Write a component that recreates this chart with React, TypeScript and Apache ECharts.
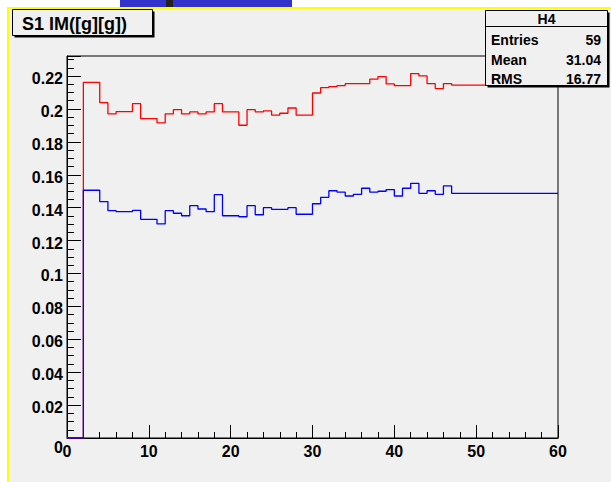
import React, { useEffect, useRef } from "react";
import * as echarts from "echarts";

// ---- data ----
const histTitle = "S1 IM([g][g])";
const statTitle = "H4";
const statNames = ["Entries", "Mean", "RMS"];
const statValues = ["59", "31.04", "16.77"];

const xMin = 0;
const xMax = 60;
const yMax = 0.2322;
const xTickLabels = ["0", "10", "20", "30", "40", "50", "60"];
const yTickLabels = ["0", "0.02", "0.04", "0.06", "0.08", "0.1", "0.12", "0.14", "0.16", "0.18", "0.2", "0.22"];

// one value per unit-wide bin, from x = 0 to x = 60
const redValues = [
  0, 0, 0.2162, 0.2162, 0.2038, 0.197, 0.1984, 0.1984, 0.2032, 0.1941,
  0.1941, 0.1915, 0.197, 0.1996, 0.197, 0.1982, 0.197, 0.1982, 0.2032, 0.1982,
  0.1982, 0.1901, 0.1996, 0.1982, 0.1988, 0.1962, 0.1974, 0.2006, 0.1962, 0.1962,
  0.2097, 0.213, 0.2136, 0.2142, 0.2154, 0.2154, 0.2154, 0.2181, 0.2197, 0.2152,
  0.2142, 0.2142, 0.2215, 0.2201, 0.2154, 0.2124, 0.2154, 0.2145, 0.2145, 0.2145,
  0.2145, 0.2145, 0.2145, 0.2145, 0.2145, 0.2145, 0.2145, 0.2145, 0.2145, 0.2145,
];
const blueValues = [
  0, 0, 0.1506, 0.1506, 0.1437, 0.1382, 0.1376, 0.1376, 0.1384, 0.1329,
  0.1329, 0.1301, 0.1382, 0.1366, 0.1351, 0.1412, 0.1392, 0.1376, 0.1479, 0.1351,
  0.1351, 0.1345, 0.1412, 0.1357, 0.14, 0.139, 0.139, 0.14, 0.136, 0.136,
  0.1424, 0.1463, 0.1503, 0.1494, 0.1471, 0.1481, 0.1518, 0.1494, 0.15, 0.151,
  0.1471, 0.1518, 0.1548, 0.1487, 0.1503, 0.1481, 0.1532, 0.1487, 0.1487, 0.1487,
  0.1487, 0.1487, 0.1487, 0.1487, 0.1487, 0.1487, 0.1487, 0.1487, 0.1487, 0.1487,
];

const FONT = '"Liberation Sans", Arial, Helvetica, sans-serif';

function toSteps(vals: number[]): number[][] {
  const pts: number[][] = [];
  vals.forEach((v, i) => {
    pts.push([xMin + i, v], [xMin + i + 1, v]);
  });
  return pts;
}

function boxWithShadow(x: number, y: number, w: number, h: number, z: number) {
  return [
    { type: "rect", z, shape: { x: x + 2, y: y + 2, width: w, height: h }, style: { fill: "#000" } },
    { type: "rect", z: z + 1, shape: { x, y, width: w, height: h }, style: { fill: "#f0f0f0", stroke: "#000", lineWidth: 1 } },
  ];
}

export default function App() {
  const ref = useRef<HTMLDivElement>(null);
  useEffect(() => {
    if (!ref.current) return;
    const chart = echarts.init(ref.current, undefined, { renderer: "svg" });

    const statBox = { x: 485.5, y: 10.5, w: 122, h: 75 };
    const titleBox = { x: 12.5, y: 9.5, w: 140, h: 26 };

    const graphics: any[] = [
      // canvas background
      { type: "rect", z: -20, silent: true, shape: { x: 7, y: 7, width: 604, height: 475 }, style: { fill: "#f0f0f0" } },
      { type: "rect", z: -19, silent: true, shape: { x: 7, y: 7, width: 2, height: 475 }, style: { fill: "#ffff00" } },
      { type: "rect", z: -19, silent: true, shape: { x: 7, y: 7, width: 604, height: 2 }, style: { fill: "#ffff00" } },
      { type: "rect", z: -19, silent: true, shape: { x: 120, y: 0, width: 172, height: 7 }, style: { fill: "#3333cc" } },
      { type: "rect", z: -18, silent: true, shape: { x: 166, y: 0, width: 7, height: 7 }, style: { fill: "#222222" } },
      // title box
      ...boxWithShadow(titleBox.x, titleBox.y, titleBox.w, titleBox.h, 100),
      {
        type: "text", z: 110, x: 22, y: titleBox.y + titleBox.h / 2 + 1,
        style: { text: histTitle, font: `bold 18px ${FONT}`, fill: "#000", verticalAlign: "middle", align: "left" },
      },
      // stat box
      ...boxWithShadow(statBox.x, statBox.y, statBox.w, statBox.h, 100),
      { type: "line", z: 110, shape: { x1: statBox.x, y1: 26.5, x2: statBox.x + statBox.w, y2: 26.5 }, style: { stroke: "#000", lineWidth: 1 } },
      {
        type: "text", z: 110, x: statBox.x + statBox.w / 2, y: 19,
        style: { text: statTitle, font: `bold 14px ${FONT}`, fill: "#000", align: "center", verticalAlign: "middle" },
      },
    ];
    const rowY = [40, 59.5, 78.5];
    statNames.forEach((n, i) => {
      graphics.push({
        type: "text", z: 110, x: 491, y: rowY[i],
        style: { text: n, font: `bold 14px ${FONT}`, fill: "#000", align: "left", verticalAlign: "middle" },
      });
      graphics.push({
        type: "text", z: 110, x: 601, y: rowY[i],
        style: { text: statValues[i], font: `bold 14px ${FONT}`, fill: "#000", align: "right", verticalAlign: "middle" },
      });
    });

    chart.setOption({
      animation: false,
      backgroundColor: "#ffffff",
      graphic: { elements: graphics },
      grid: {
        left: 67, top: 56, right: 53, bottom: 44,
        show: true, borderColor: "#000", borderWidth: 1, backgroundColor: "transparent",
        containLabel: false,
      },
      xAxis: {
        type: "value", min: xMin, max: xMax, interval: 10,
        axisLine: { show: true, onZero: false, lineStyle: { color: "#000", width: 1 } },
        axisTick: { show: true, inside: true, length: 13, lineStyle: { color: "#000" } },
        minorTick: { show: true, splitNumber: 5, length: 6, lineStyle: { color: "#000" } },
        splitLine: { show: false },
        axisLabel: {
          margin: 5, color: "#000", fontFamily: FONT, fontWeight: "bold", fontSize: 16,
          formatter: (v: number) => xTickLabels[Math.round((v - xMin) / 10)] ?? "",
        },
      },
      yAxis: {
        type: "value", min: 0, max: yMax, interval: 0.02,
        axisLine: { show: true, onZero: false, lineStyle: { color: "#000", width: 1 } },
        axisTick: { show: true, inside: true, length: 14, lineStyle: { color: "#000" } },
        minorTick: { show: true, splitNumber: 4, length: 7, lineStyle: { color: "#000" } },
        splitLine: { show: false },
        axisLabel: {
          margin: 4, color: "#000", fontFamily: FONT, fontWeight: "bold", fontSize: 16,
          showMaxLabel: false,
          formatter: (v: number) => {
            const idx = Math.round(v / 0.02);
            if (idx === 0) return "{z|" + yTickLabels[0] + "}";
            return "{n|" + (yTickLabels[idx] ?? "") + "}";
          },
          rich: {
            z: { fontFamily: FONT, fontWeight: "bold", fontSize: 16, color: "#000", padding: [18, 0, 0, 0] },
            n: { fontFamily: FONT, fontWeight: "bold", fontSize: 16, color: "#000", padding: [5, 0, 0, 0] },
          },
        },
      },
      series: [
        {
          type: "line", name: "red", data: toSteps(redValues), showSymbol: false, symbol: "none",
          lineStyle: { color: "#ff0000", width: 1.3 }, z: 3, clip: true,
        },
        {
          type: "line", name: "blue", data: toSteps(blueValues), showSymbol: false, symbol: "none",
          lineStyle: { color: "#0000ff", width: 1.3 }, z: 4, clip: true,
        },
      ],
    });
    return () => chart.dispose();
  }, []);
  return <div ref={ref} style={{ position: "absolute", left: 0, top: 0, width: 611, height: 482 }} />;
}
